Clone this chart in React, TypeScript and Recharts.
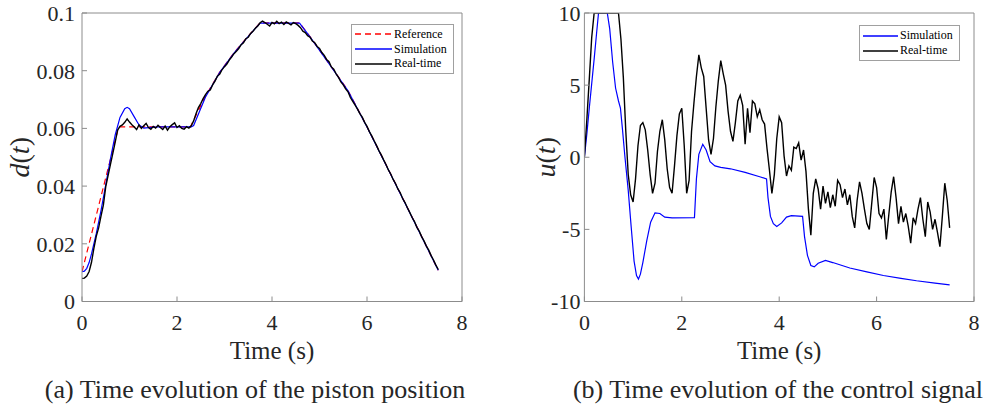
import { LineChart, Line, XAxis, YAxis, Legend, Label } from 'recharts';

const FONT = '"Liberation Serif", "Times New Roman", serif';
const AXIS = '#8c8c8c';
const INK = '#262626';

// sampling step of the logged real-time signals (s)
const RT_STEP = 0.05;

const timeTicks = [0, 2, 4, 6, 8];
const posTicks = [0, 0.02, 0.04, 0.06, 0.08, 0.1];
const ctrlTicks = [-10, -5, 0, 5, 10];

// (a) piston position
const refT = [0, 0.77, 2.28, 2.6, 2.9, 3.2, 3.5, 3.75, 4.58, 4.8, 5.2, 5.6, 6.0, 6.5, 7.0, 7.5];
const refD = [0.0103, 0.0605, 0.0605, 0.0712, 0.0795, 0.0862, 0.092, 0.0966, 0.0966, 0.0918, 0.0825, 0.0731, 0.0606, 0.0441, 0.0276, 0.0108];

const simT = [0, 0.05, 0.1, 0.15, 0.2, 0.3, 0.4, 0.5, 0.6, 0.7, 0.8, 0.9, 0.95, 1.0, 1.1, 1.2, 1.3, 1.4, 1.6, 2.3, 2.35, 2.6, 2.9, 3.2, 3.5, 3.75, 4.58, 4.8, 5.2, 5.6, 6.0, 6.5, 7.0, 7.5];
const simD = [0.0103, 0.0105, 0.0115, 0.0135, 0.0165, 0.0235, 0.0315, 0.0405, 0.0495, 0.0578, 0.0638, 0.0668, 0.0673, 0.0668, 0.064, 0.0612, 0.0601, 0.0603, 0.0605, 0.0605, 0.061, 0.0709, 0.0794, 0.0861, 0.0919, 0.0965, 0.0965, 0.0917, 0.0824, 0.073, 0.0605, 0.044, 0.0275, 0.0108];

const rtD = [
  0.008, 0.0081, 0.0088, 0.0104, 0.0136, 0.0184, 0.0226, 0.0255, 0.0296, 0.0334,
  0.0398, 0.0437, 0.0476, 0.0514, 0.0553, 0.0594, 0.0607, 0.0612, 0.0621, 0.0633,
  0.0622, 0.0613, 0.0605, 0.0596, 0.0612, 0.06, 0.0609, 0.0617, 0.0603, 0.0597,
  0.0607, 0.0601, 0.0611, 0.0603, 0.0596, 0.0608, 0.0594, 0.0606, 0.0613, 0.0619,
  0.0603, 0.0609, 0.06, 0.0597, 0.0606, 0.0601, 0.0609, 0.0626, 0.0651, 0.0672,
  0.0686, 0.0703, 0.0717, 0.0729, 0.0733, 0.0751, 0.0764, 0.0781, 0.0788, 0.0804,
  0.0814, 0.0823, 0.0837, 0.0847, 0.0859, 0.0867, 0.0877, 0.089, 0.0897, 0.0911,
  0.0916, 0.0929, 0.0937, 0.0947, 0.0955, 0.0966, 0.0972, 0.0967, 0.0961, 0.0955,
  0.0967, 0.0962, 0.0971, 0.0963, 0.0968, 0.096, 0.0969, 0.0964, 0.0959, 0.0967,
  0.0963, 0.0957, 0.0949, 0.0937, 0.0932, 0.0921, 0.0916, 0.0903, 0.0897, 0.0884,
  0.0877, 0.0863, 0.0853, 0.0839, 0.0831, 0.0813, 0.0805, 0.0789, 0.0777, 0.0761,
  0.0751, 0.0737, 0.0727, 0.0707, 0.0694, 0.0681, 0.0667, 0.0651, 0.0639, 0.0621,
  0.0607, 0.0589, 0.0574, 0.0557, 0.0541, 0.0523, 0.0508, 0.0491, 0.0475, 0.0456,
  0.0442, 0.0423, 0.0409, 0.039, 0.0377, 0.0357, 0.0343, 0.0325, 0.0309, 0.0291,
  0.0277, 0.0257, 0.0244, 0.0225, 0.021, 0.0192, 0.0178, 0.0159, 0.0144, 0.0126,
  0.0111,
];

// (b) control signal
const simUT = [0, 0.05, 0.1, 0.15, 0.2, 0.25, 0.29, 0.47, 0.52, 0.58, 0.64, 0.7, 0.74, 0.78, 0.83, 0.9, 0.96, 1.02, 1.07, 1.11, 1.15, 1.2, 1.28, 1.36, 1.45, 1.55, 1.65, 1.8, 2.26, 2.3, 2.35, 2.43, 2.5, 2.58, 2.68, 2.8, 3.0, 3.3, 3.6, 3.74, 3.77, 3.82, 3.88, 3.95, 4.05, 4.15, 4.25, 4.48, 4.52, 4.58, 4.65, 4.72, 4.8, 4.95, 5.1, 5.45, 5.8, 6.14, 6.5, 6.82, 7.2, 7.5];
const simU = [0, 1.6, 3.4, 5.1, 6.8, 8.6, 10, 10, 8.9, 6.6, 4.8, 3.9, 3.4, 2.0, 0.1, -2.3, -4.8, -7.2, -8.2, -8.45, -8.1, -7.3, -5.8, -4.5, -3.85, -3.9, -4.15, -4.2, -4.18, -1.5, 0.2, 0.9, 0.5, -0.3, -0.6, -0.7, -0.8, -1.05, -1.35, -1.5, -2.8, -4.1, -4.6, -4.8, -4.55, -4.15, -4.05, -4.1, -5.5, -6.8, -7.5, -7.6, -7.35, -7.15, -7.3, -7.68, -7.95, -8.2, -8.4, -8.56, -8.72, -8.85];

const rtU = [
  0, 2.6, 5.4, 8.3, 10, 10, 10, 10, 10, 10,
  10, 10, 10, 10, 10, 8.2, 5.5, 1.8, -1.2, -2.6,
  -3.1, -1.5, 0.8, 2.2, 2.4, 1.9, 0.5, -1.2, -2.5, -1.8,
  0.4, 1.8, 2.6, 1.2, -0.8, -2.1, -2.5, -0.6, 1.5, 3.0,
  3.4, 0.8, -2.5, -1.6, 1.8, 3.8, 5.6, 7.1, 6.2, 5.6,
  3.4, 1.2, 0.2, 1.3, 3.5, 5.3, 6.7, 5.8, 5.0, 3.2,
  1.8, 1.1, 2.4, 3.9, 4.3, 3.6, 0.9, 3.4, 1.7, 3.9,
  3.7, 2.8, 3.3, 2.6, 2.3, 0.6, -0.9, -2.5, -1.2, 1.3,
  2.8, 2.4, 0.1, -1.3, -0.6, -0.9, 0.7, 0.6, 1.0, -0.2,
  0.5, -1.0, -3.6, -5.4, -2.5, -1.5, -2.2, -3.6, -2.0, -3.2,
  -2.4, -3.5, -2.6, -3.4, -1.6, -1.9, -2.8, -2.2, -3.3, -2.6,
  -4.1, -4.9, -3.0, -1.7, -2.5, -3.6, -4.6, -5.0, -3.2, -1.4,
  -2.1, -3.9, -4.2, -3.6, -5.7, -4.0, -2.4, -1.35, -2.8, -4.6,
  -3.4, -4.5, -3.9, -4.8, -5.95, -4.2, -4.6, -3.6, -2.8, -4.3,
  -5.5, -3.1, -3.8, -5.0, -4.3, -5.2, -6.2, -4.1, -1.8, -3.0,
  -4.9,
];

const pairs = (ts: number[], vs: number[]) => ts.map((t, i) => ({ t, v: vs[i] }));
const sampled = (vs: number[]) => vs.map((v, i) => ({ t: +(i * RT_STEP).toFixed(2), v }));

const refData = pairs(refT, refD);
const simData = pairs(simT, simD);
const rtData = sampled(rtD);
const simUData = pairs(simUT, simU);
const rtUData = sampled(rtU);

type Item = { name: string; color: string; dash?: string };
const leftItems: Item[] = [
  { name: 'Reference', color: '#ff0000', dash: '6 4' },
  { name: 'Simulation', color: '#0000ff' },
  { name: 'Real-time', color: '#000000' },
];
const rightItems: Item[] = [
  { name: 'Simulation', color: '#0000ff' },
  { name: 'Real-time', color: '#000000' },
];

function LegendBox({ items, lineW, rowH }: { items: Item[]; lineW: number; rowH: number }) {
  return (
    <div style={{ border: '1px solid #a0a0a0', background: '#fff', padding: '2px 6px 2px 3px', fontFamily: FONT, fontSize: 12, color: '#000' }}>
      {items.map((it) => (
        <div key={it.name} style={{ display: 'flex', alignItems: 'center', height: rowH, whiteSpace: 'nowrap' }}>
          <svg width={lineW} height={6} style={{ display: 'block' }}>
            <line x1={0} x2={lineW} y1={3} y2={3} stroke={it.color} strokeWidth={1.3} strokeDasharray={it.dash} />
          </svg>
          <span style={{ marginLeft: 2 }}>{it.name}</span>
        </div>
      ))}
    </div>
  );
}

const tickStyle = { fill: INK, fontSize: 22, fontFamily: FONT, style: { fontFamily: FONT } };

const xLabel = (props: any) => {
  const vb = props.viewBox;
  return (
    <text x={vb.x + vb.width / 2} y={vb.y + 49} textAnchor="middle" dominantBaseline="central" fill={INK} fontSize={25} style={{ fontFamily: FONT }}>
      Time (s)
    </text>
  );
};

const yLabel = (sym: string, dx: number) => (props: any) => {
  const vb = props.viewBox;
  const x = vb.x + dx;
  const y = vb.y + vb.height / 2;
  return (
    <text x={x} y={y} transform={`rotate(-90 ${x} ${y})`} textAnchor="middle" dominantBaseline="central" fill={INK} fontSize={28} style={{ fontFamily: FONT }}>
      <tspan fontStyle="italic">{sym}</tspan>(<tspan fontStyle="italic">t</tspan>)
    </text>
  );
};

function Frame({ yDomain, yTicks, yFmt, yWidth, yMargin, sym, labelDx }: any) {
  return [
    <XAxis key="xb" xAxisId={0} type="number" dataKey="t" domain={[0, 8]} ticks={timeTicks} interval={0} allowDataOverflow
      height={68.5} stroke={AXIS} tickSize={-5} tickMargin={17.5} tick={tickStyle}>
      <Label content={xLabel} />
    </XAxis>,
    <XAxis key="xt" xAxisId="top" orientation="top" type="number" dataKey="t" domain={[0, 8]} ticks={timeTicks} interval={0}
      height={1} stroke={AXIS} tickSize={-5} tick={false} />,
    <YAxis key="yl" yAxisId={0} type="number" domain={yDomain} ticks={yTicks} interval={0} allowDataOverflow width={yWidth}
      stroke={AXIS} tickSize={-5} tickMargin={yMargin} tick={tickStyle} tickFormatter={yFmt}>
      <Label content={yLabel(sym, labelDx)} />
    </YAxis>,
    <YAxis key="yr" yAxisId="right" orientation="right" type="number" domain={yDomain} ticks={yTicks} interval={0}
      width={1} stroke={AXIS} tickSize={-5} tick={false} />,
  ];
}

export default function App() {
  return (
    <div style={{ position: 'absolute', left: 0, top: 0, width: 983, height: 409, background: '#fff', overflow: 'hidden', fontFamily: FONT }}>
      <style>{`.recharts-wrapper text { font-family: ${FONT}; }`}</style>
      <div style={{ position: 'absolute', left: 0, top: 0 }}>
        <LineChart width={480} height={370} margin={{ top: 12, right: 17, bottom: 0, left: 0 }}>
          {Frame({ yDomain: [0, 0.1], yTicks: posTicks, yFmt: (v: number) => String(v), yWidth: 82, yMargin: 12, sym: 'd', labelDx: 19 })}
          <Line data={refData} dataKey="v" type="linear" stroke="#ff0000" strokeWidth={1.2} strokeDasharray="6 4" dot={false} isAnimationActive={false} />
          <Line data={simData} dataKey="v" type="linear" stroke="#0000ff" strokeWidth={1.2} dot={false} isAnimationActive={false} />
          <Line data={rtData} dataKey="v" type="linear" stroke="#000000" strokeWidth={1.4} dot={false} isAnimationActive={false} />
          <Legend layout="vertical" align="center" verticalAlign="middle" wrapperStyle={{ left: 351, top: 24, width: 'auto' }}
            content={() => <LegendBox items={leftItems} lineW={37} rowH={14.7} />} />
        </LineChart>
      </div>
      <div style={{ position: 'absolute', left: 500, top: 0 }}>
        <LineChart width={483} height={370} margin={{ top: 12, right: 8, bottom: 0, left: 0 }}>
          {Frame({ yDomain: [-10, 10], yTicks: ctrlTicks, yFmt: (v: number) => String(v), yWidth: 84.4, yMargin: 9, sym: 'u', labelDx: 45 })}
          <Line data={simUData} dataKey="v" type="linear" stroke="#0000ff" strokeWidth={1.2} dot={false} isAnimationActive={false} />
          <Line data={rtUData} dataKey="v" type="linear" stroke="#000000" strokeWidth={1.4} dot={false} isAnimationActive={false} />
          <Legend layout="vertical" align="center" verticalAlign="middle" wrapperStyle={{ left: 359, top: 25, width: 'auto' }}
            content={() => <LegendBox items={rightItems} lineW={35} rowH={15} />} />
        </LineChart>
      </div>
      <div style={{ position: 'absolute', left: 255, top: 390, transform: 'translate(-50%, -50%)', whiteSpace: 'nowrap', fontSize: 26, color: INK }}>
        (a) Time evolution of the piston position
      </div>
      <div style={{ position: 'absolute', left: 778, top: 390, transform: 'translate(-50%, -50%)', whiteSpace: 'nowrap', fontSize: 26, color: INK }}>
        (b) Time evolution of the control signal
      </div>
    </div>
  );
}
